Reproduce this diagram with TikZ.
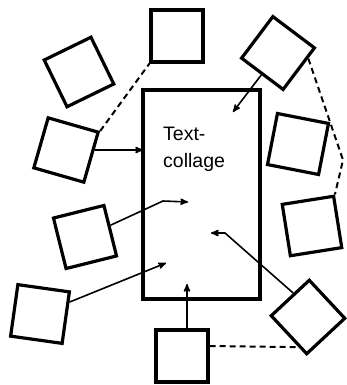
\documentclass[tikz,border=0pt]{standalone}
\usepackage{fontspec}
\setmainfont{Liberation Sans}
\usetikzlibrary{arrows, calc, positioning}
\tikzset {
    piece/.style = {
        draw,
        shape = rectangle,
        line width=3.2pt,
        minimum size=52pt,
        inner sep=0pt
    },
    collagebox/.style = {
        draw,
        shape = rectangle,
        line width=3.8pt,
        minimum width=117pt,
        minimum height=209pt
    },
    link/.style = {
        ->,
        >=stealth',
        line width=1.6pt
    },
    dashlink/.style = {
        line width=2pt,
        dash pattern=on 6pt off 4pt
    }
}
\begin{document}
\begin{tikzpicture}[x=1pt, y=-1pt]
        \useasboundingbox (0,0) rectangle (346,385);

        % The collage in the middle and its label
        \node [collagebox]                          (collage)   at (201.5,194.5) {};
        \node [anchor=north west, align=left, inner sep=0pt,
               font=\fontsize{19.5}{27}\selectfont] (title)     at (163,127) {Text-\\collage};

        % Pieces round the collage, top first, then clockwise
        \node [piece]                   (sqTop)     at (177,36)  {};
        \node [piece, rotate=-37]       (sqTR)      at (278,53)  {};
        \node [piece, rotate=-11]       (sqR1)      at (298,144) {};
        \node [piece, rotate=9]         (sqR2)      at (312,226) {};
        \node [piece, rotate=43]        (sqDia)     at (308,317) {};
        \node [piece]                   (sqB)       at (182,356) {};
        \node [piece, rotate=-8]        (sqBL)      at (40,314)  {};
        \node [piece, rotate=14]        (sqL2)      at (85,237)  {};
        \node [piece, rotate=-16]       (sqL1)      at (66,150)  {};
        \node [piece, rotate=26]        (sqTL)      at (79,72)   {};

        % Free ends of the arrows, bends of the connectors
        \coordinate (tipL1)   at (143,150);
        \coordinate (tipTR)   at (233,112);
        \coordinate (kinkL2)  at (163,201);
        \coordinate (tipL2)   at (188,202);
        \coordinate (tipBL)   at (166,263);
        \coordinate (kinkDia) at (225,233);
        \coordinate (tipDia)  at (211,233);
        \coordinate (tipB)    at (187,284);
        \coordinate (bendR)   at (343,160);

        \draw [link]    (sqL1)      --  (tipL1);
        \draw [link]    (sqTR)      --  (tipTR);
        \draw [link]    (sqL2)      --  (kinkL2) -- (tipL2);
        \draw [link]    (sqBL)      --  (tipBL);
        \draw [link]    ($(sqDia.north west)!0.6!(sqDia.north east)$) -- (kinkDia) -- (tipDia);
        \draw [link]    (sqB.north -| tipB) --  (tipB);

        \draw [dashlink] (sqL1.north east) -- (sqTop.south west);
        \draw [dashlink] ($(sqTR.north east)!0.25!(sqTR.south east)$) -- (bendR) -- (sqR2.north east);
        \draw [dashlink] ([yshift=10pt]sqB.east) -- ($(sqDia.north west)!0.78!(sqDia.south west)$);
\end{tikzpicture}
\end{document}
